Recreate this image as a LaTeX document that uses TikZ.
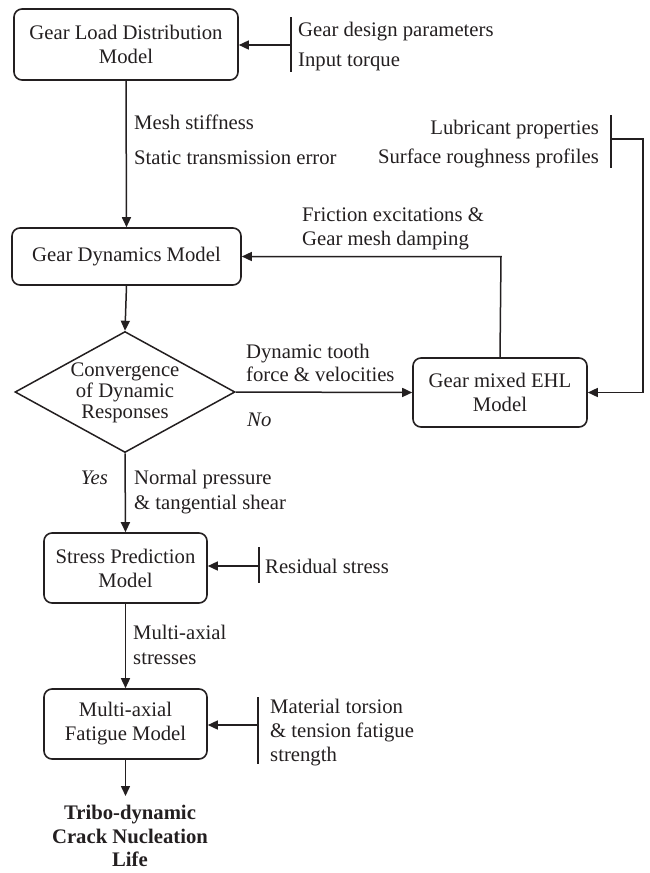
\documentclass[tikz,border=0pt]{standalone}
\usepackage{fontspec}
\setmainfont{Liberation Serif}
\usetikzlibrary{arrows.meta,shapes.geometric}
\definecolor{ink}{RGB}{35,31,32}
\begin{document}
\begin{tikzpicture}[x=1pt,y=-1pt,
  every node/.style={text=ink,font=\fontsize{20.7}{24}\selectfont},
  model/.style={draw=ink,line width=1.6pt,rounded corners=8pt,align=center,inner sep=0pt},
  lbl/.style={anchor=base west,inner sep=0pt},
  lblr/.style={anchor=base east,inner sep=0pt},
  flow/.style={draw=ink,line width=1.5pt,-{Triangle[length=10pt,width=9pt]}},
  bar/.style={draw=ink,line width=1.8pt},
  plain/.style={draw=ink,line width=1.5pt}]
\useasboundingbox (0,0) rectangle (649,873);

% boxes
\node[model,minimum width=224pt,minimum height=71pt] (b1) at (126,44.5) {Gear Load Distribution\\Model};
\node[model,minimum width=229pt,minimum height=57pt] (b2) at (126.5,256.5) {Gear Dynamics Model};
\node[draw=ink,line width=1.5pt,diamond,aspect=1.82,minimum width=220pt,minimum height=121pt,inner sep=0pt] (dia) at (125,392) {};
\node[align=center,inner sep=0pt,font=\fontsize{20.7}{21}\selectfont] (diat) at (125,393) {Convergence\\of Dynamic\\Responses};
\node[model,minimum width=174pt,minimum height=69pt] (ehl) at (500,392.5) {Gear mixed EHL\\Model};
\node[model,minimum width=163pt,minimum height=70pt] (b3) at (125.5,568) {Stress Prediction\\Model};
\node[model,minimum width=163pt,minimum height=70pt] (b4) at (125.5,724) {Multi-axial\\Fatigue Model};
\node[align=center,inner sep=0pt,font=\fontsize{20.7}{23.5}\selectfont\bfseries] (life) at (130,836) {Tribo-dynamic\\Crack Nucleation\\Life};

% input bars
\coordinate (p1t) at (291,17); \coordinate (p1b) at (291,72); \coordinate (p1m) at (291,45);
\coordinate (p2t) at (611,115); \coordinate (p2b) at (611,168); \coordinate (p2m) at (611,139);
\coordinate (p2c) at (643,139); \coordinate (p2d) at (643,392.5);
\coordinate (p3t) at (259,547); \coordinate (p3b) at (259,583); \coordinate (p3m) at (259,566);
\coordinate (p4t) at (258,697); \coordinate (p4b) at (258,764); \coordinate (p4m) at (258,725);
\coordinate (fb) at (501,256.5);
\coordinate (lifein) at (125.5,796);

\draw[bar] (p1t) -- (p1b);
\draw[bar] (p2t) -- (p2b);
\draw[bar] (p3t) -- (p3b);
\draw[bar] (p4t) -- (p4b);

% connectors
\draw[flow] (p1m) -- (b1.east |- p1m);
\draw[flow] (b1.south) -- (b2.north);
\draw[flow] (p2m) -- (p2c) -- (p2d) -- (ehl.east);
\draw[flow] (ehl.north) -- (fb) -- (b2.east);
\draw[flow] (b2.south) -- (dia.north);
\draw[flow] (dia.east) -- (ehl.west);
\draw[flow] (dia.south) -- (b3.north);
\draw[flow] (p3m) -- (b3.east |- p3m);
\draw[flow] (b3.south) -- (b4.north);
\draw[flow] (p4m) -- (b4.east |- p4m);
\draw[flow] (b4.south) -- (lifein);

% labels
\node[lbl] (l1) at (298,36) {Gear design parameters};
\node[lbl] (l2) at (298,66) {Input torque};
\node[lbl] (l3) at (134,129) {Mesh stiffness};
\node[lbl] (l4) at (134,164) {Static transmission error};
\node[lblr] (l5) at (599,134) {Lubricant properties};
\node[lblr] (l6) at (599,163) {Surface roughness profiles};
\node[lbl] (l7) at (302,221) {Friction excitations \&};
\node[lbl] (l8) at (302,245) {Gear mesh damping};
\node[lbl] (l9) at (246,358) {Dynamic tooth};
\node[lbl] (l10) at (246,381) {force \& velocities};
\node[lbl,font=\fontsize{20.7}{24}\selectfont\itshape] (l11) at (247,426) {No};
\node[lblr,font=\fontsize{20.7}{24}\selectfont\itshape] (l12) at (108,484) {Yes};
\node[lbl] (l13) at (134,484) {Normal pressure};
\node[lbl] (l14) at (134,509) {\& tangential shear};
\node[lbl] (l15) at (265,573) {Residual stress};
\node[lbl] (l16) at (133,639) {Multi-axial};
\node[lbl] (l17) at (133,664) {stresses};
\node[lbl] (l18) at (270,713) {Material torsion};
\node[lbl] (l19) at (270,737) {\& tension fatigue};
\node[lbl] (l20) at (270,761) {strength};
\end{tikzpicture}
\end{document}
